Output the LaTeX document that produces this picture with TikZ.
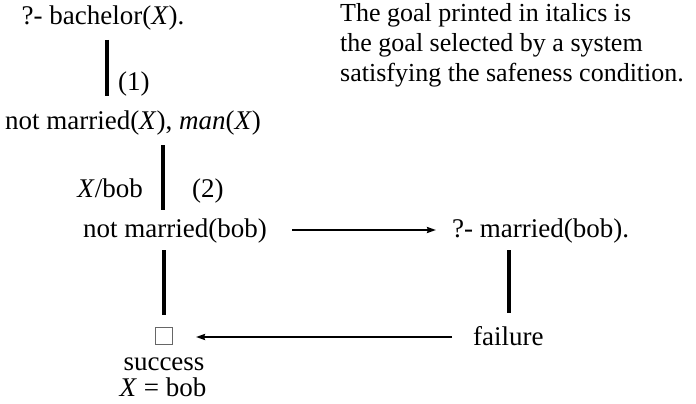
\documentclass[tikz,border=0pt]{standalone}
\usepackage{fontspec}
\setmainfont{Liberation Serif}
\usetikzlibrary{arrows.meta}
\begin{document}
\begin{tikzpicture}[x=1pt,y=-1pt,
  lbl/.style={inner sep=0pt,anchor=base,font=\fontsize{27}{30}\selectfont},
  vline/.style={line width=3.5pt},
  harrow/.style={line width=2.5pt,-{Stealth[length=9pt,width=6pt,inset=1pt]}}]
\useasboundingbox (0,0) rectangle (696,404);
\node[lbl] (q) at (103,25) {?- bachelor(\textit{X}).};
\node[lbl,anchor=base west] (n1) at (118,90) {(1)};
\node[lbl] (g1) at (133,129) {not married(\textit{X}), \textit{man}(\textit{X})};
\node[lbl,anchor=base east] (sub) at (143,197) {\textit{X}/bob};
\node[lbl,anchor=base west] (n2) at (192,197) {(2)};
\node[lbl] (g2) at (175,237) {not married(bob)};
\node[lbl,anchor=base west] (q2) at (452,237) {?- married(bob).};
\node[lbl,anchor=base west] (fail) at (473,345) {failure};
\node[draw=black!60,line width=0.9pt,minimum size=17pt,inner sep=0pt] (box) at (164,336) {};
\node[lbl] (succ) at (164,370) {success};
\node[lbl] (res) at (163,396) {\textit{X} = bob};
\node[inner sep=0pt,anchor=north west,align=left,font=\fontsize{26}{30}\selectfont] (note) at (340,3) {The goal printed in italics is\\the goal selected by a system\\satisfying the safeness condition.};
\coordinate (a1) at (107,40); \coordinate (b1) at (107,96);
\coordinate (a2) at (163,145); \coordinate (b2) at (163,210);
\coordinate (a3) at (509,250); \coordinate (b3) at (509,313);
\coordinate (a4) at (164,250); \coordinate (b4) at (164,315);
\coordinate (s1) at (292,230); \coordinate (e1) at (436,230);
\coordinate (s2) at (452,337); \coordinate (e2) at (196,337);
\draw[vline] (a1) -- (b1);
\draw[vline] (a2) -- (b2);
\draw[vline] (a3) -- (b3);
\draw[vline] (a4) -- (b4);
\draw[harrow] (s1) -- (e1);
\draw[harrow] (s2) -- (e2);
\end{tikzpicture}
\end{document}
